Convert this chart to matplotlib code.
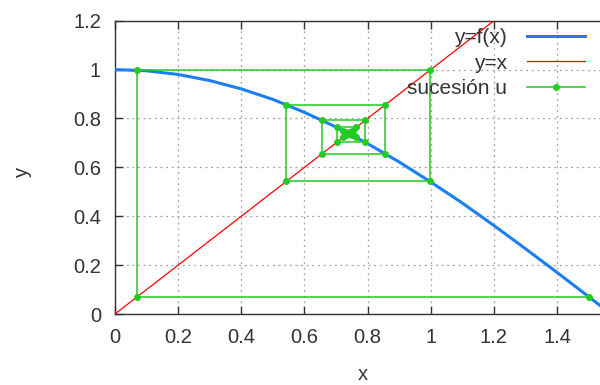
import matplotlib.pyplot as plt

# curve y = f(x)
x_curve = [0.0, 0.1, 0.2, 0.3, 0.4, 0.5, 0.6, 0.7, 0.8, 0.9, 1.0,
           1.1, 1.2, 1.3, 1.4, 1.5, 1.5708]
y_curve = [1.0, 0.995, 0.980, 0.955, 0.921, 0.878, 0.825, 0.765, 0.697,
           0.622, 0.540, 0.454, 0.362, 0.267, 0.170, 0.071, 0.0]

# terms of the sequence u
u = [1.5, 0.0707, 0.9975, 0.5424, 0.8565, 0.6551, 0.7930, 0.7017, 0.7637,
     0.7222, 0.7504, 0.7314, 0.7442, 0.7356, 0.7414, 0.7375, 0.7401,
     0.7384, 0.7395, 0.7388]

xticks = [0, 0.2, 0.4, 0.6, 0.8, 1, 1.2, 1.4]
yticks = [0, 0.2, 0.4, 0.6, 0.8, 1, 1.2]

# cobweb path built from the sequence
web_x, web_y = [u[0]], [u[1]]
for i in range(1, len(u) - 1):
    web_x += [u[i], u[i]]
    web_y += [u[i], u[i + 1]]

plt.rcParams["font.family"] = ["Liberation Sans", "DejaVu Sans"]
plt.rcParams["font.size"] = 14.5

fig = plt.figure(figsize=(6, 3.85), dpi=100)
ax = fig.add_axes([115 / 600, 71 / 385, 496 / 600, 293.3 / 385])

ax.plot(x_curve, y_curve, color="#1a7ff0", lw=2.2, label="y=f(x)", zorder=3)
ax.plot([0, 1.2], [0, 1.2], color="#ff0000", lw=0.9, label="y=x", zorder=4)
ax.plot(web_x, web_y, color="#22cc22", lw=1.1, marker="o", ms=4,
        label="sucesión u", zorder=5)

ax.set_xlim(0, 1.5708)
ax.set_ylim(0, 1.2)
ax.set_xticks(xticks)
ax.set_yticks(yticks)
ax.set_xticklabels([f"{t:g}" for t in xticks])
ax.set_yticklabels([f"{t:g}" for t in yticks])
ax.tick_params(direction="in", length=6, width=1, top=True, right=True,
               colors="#333333", labelcolor="#333333", pad=10)
for s in ax.spines.values():
    s.set_color("#333333")
    s.set_linewidth(1)

ax.grid(True, color="#a0a0a0", linestyle=(0, (1.5, 3)), lw=0.9)

# axis labels placed like gnuplot does
fig.text(363 / 600, 1 / 385, "x", ha="center", va="bottom", color="#333333")
fig.text(22 / 600, (385 - 172) / 385, "y", ha="center", va="center",
         rotation=90, color="#333333")

ax.legend(loc="upper right", bbox_to_anchor=(585 / 600, 0.927),
          bbox_transform=fig.transFigure, frameon=False, markerfirst=False,
          handlelength=2.8, handletextpad=0.95, labelspacing=0.32,
          borderpad=0, borderaxespad=0, labelcolor="#333333", fontsize=15)

plt.savefig("out.png")
